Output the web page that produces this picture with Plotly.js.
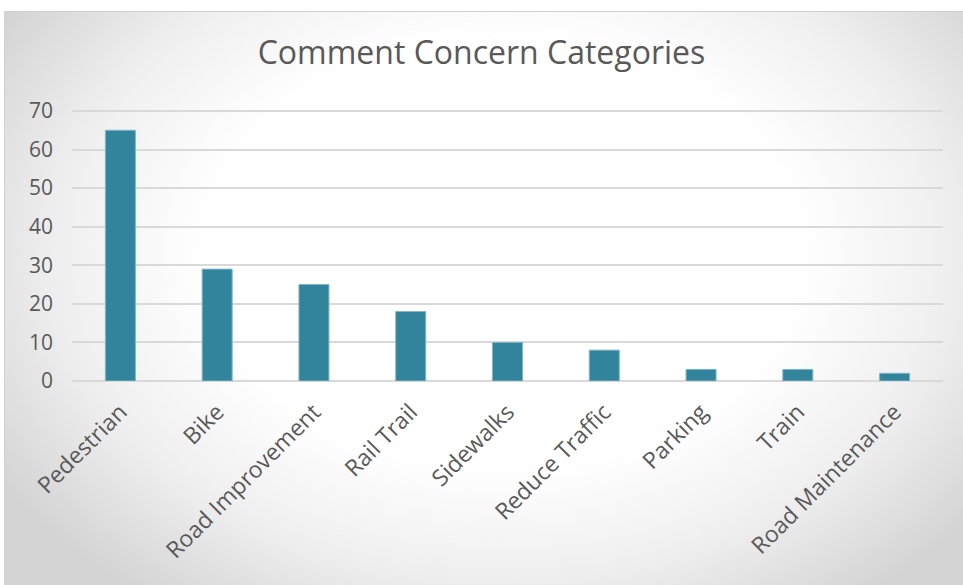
<!DOCTYPE html>
<html>
<head>
<meta charset="utf-8">
<script src="https://cdn.plot.ly/plotly-3.0.1.min.js"></script>
<style>
  html, body { margin:0; padding:0; background:#ffffff; }
  #wrap { position:relative; width:963px; height:585px; overflow:hidden; }
  #bg { position:absolute; left:4px; top:11px; width:959px; height:574px;
        background: radial-gradient(ellipse 62% 75% at 52% 42%, #ffffff 50%, #efefef 75%, #d4d4d4 100%);
        border-top:1px solid #d0d0d0; border-left:1px solid #d0d0d0; box-sizing:border-box; }
  #chart { position:absolute; left:0; top:0; width:963px; height:585px; }
</style>
</head>
<body>
<div id="wrap">
  <div id="bg"></div>
  <div id="chart"></div>
</div>
<script>
const categories = ["Pedestrian", "Bike", "Road Improvement", "Rail Trail", "Sidewalks", "Reduce Traffic", "Parking", "Train", "Road Maintenance"];
const counts = [65, 29, 25, 18, 10, 8, 3, 3, 2];
const yTicks = [0, 10, 20, 30, 40, 50, 60, 70];

const trace = {
  type: 'bar',
  x: categories,
  y: counts,
  width: 0.31,
  marker: { color: '#31849B', line: { color: '#7fb6c7', width: 1 } },
  hoverinfo: 'x+y'
};

const layout = {
  width: 963, height: 585,
  paper_bgcolor: 'rgba(0,0,0,0)',
  plot_bgcolor: 'rgba(0,0,0,0)',
  margin: { l: 72, r: 20, t: 109, b: 204 },
  font: { family: '"Open Sans", sans-serif', color: '#595959' },
  title: {
    text: 'Comment Concern Categories',
    font: { family: '"Open Sans", sans-serif', size: 32, color: '#595959' },
    x: 491, xanchor: 'center', xref: 'container',
    y: 0.91, yanchor: 'middle', yref: 'container'
  },
  xaxis: {
    type: 'category',
    tickangle: -45,
    tickfont: { size: 23, color: '#595959' },
    showgrid: false,
    showline: false,
    ticks: '',
    ticklabelstandoff: 12,
    automargin: false
  },
  yaxis: {
    range: [0, 70.5],
    tickvals: yTicks,
    ticktext: yTicks.map(String),
    tickfont: { size: 21, color: '#595959' },
    showgrid: true,
    gridcolor: '#d9d9d9',
    gridwidth: 2,
    zeroline: true,
    zerolinecolor: '#d9d9d9',
    zerolinewidth: 2,
    showline: false,
    ticks: '',
    ticklabelstandoff: 18,
    automargin: false
  },
  showlegend: false
};

Plotly.newPlot('chart', [trace], layout, { displayModeBar: false, staticPlot: true });
</script>
</body>
</html>
